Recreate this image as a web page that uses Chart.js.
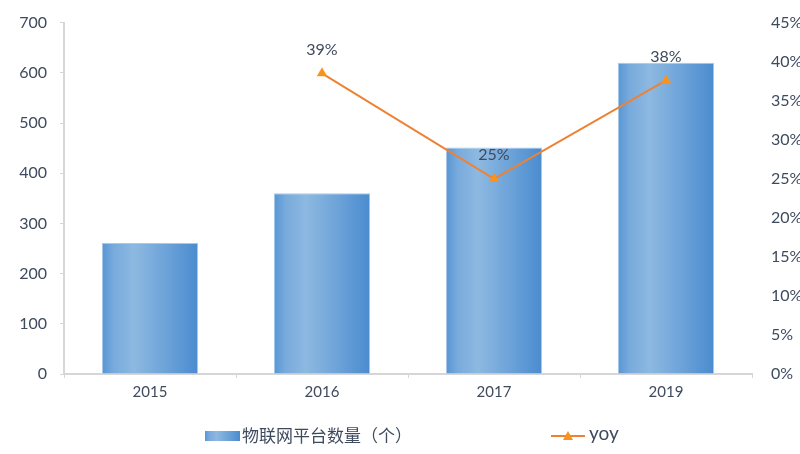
<!DOCTYPE html>
<html>
<head>
<meta charset="utf-8">
<script src="https://cdn.jsdelivr.net/npm/chart.js@4/dist/chart.umd.min.js"></script>
<style>
  html, body { margin: 0; padding: 0; background: #ffffff; }
  #wrap { width: 800px; height: 454px; position: relative; }
</style>
</head>
<body>
<div id="wrap"><canvas id="c"></canvas></div>
<script>
const categories = ['2015', '2016', '2017', '2019'];
const platformCount = [261, 360, 451, 620];
const yoyValues = [null, 0.385, 0.25, 0.376];
const leftTicks = [0, 100, 200, 300, 400, 500, 600, 700];
const rightTicks = [0, 0.05, 0.10, 0.15, 0.20, 0.25, 0.30, 0.35, 0.40, 0.45];
const barLabel = '物联网平台数量（个）';
const lineLabel = 'yoy';

const TEXT = '#3e4a5e';
const AXIS = '#d6d6d6';
const LINE_COLOR = '#ee8234';
const MARKER_COLOR = '#f7931e';
const FONT = 'Lato, "Noto Sans", sans-serif';
const CJK_FONT = '"Noto Sans CJK SC", "Noto Sans", sans-serif';

function barGradient(ctx, x0, x1) {
  const g = ctx.createLinearGradient(x0, 0, x1, 0);
  g.addColorStop(0, '#5596d4');
  g.addColorStop(0.12, '#78aadc');
  g.addColorStop(0.33, '#8db9e1');
  g.addColorStop(0.65, '#6ea4d9');
  g.addColorStop(1, '#4a8bcf');
  return g;
}

const gradientPlugin = {
  id: 'barGradient',
  beforeDatasetDraw(chart, args) {
    const meta = args.meta;
    if (meta.type !== 'bar') return;
    meta.data.forEach(bar => {
      const x0 = bar.x - bar.width / 2, x1 = bar.x + bar.width / 2;
      bar.options = Object.assign({}, bar.options, { backgroundColor: barGradient(chart.ctx, x0, x1) });
    });
  }
};

const labelPlugin = {
  id: 'yoyLabels',
  afterDatasetsDraw(chart) {
    const meta = chart.getDatasetMeta(1);
    const ctx = chart.ctx;
    ctx.save();
    ctx.font = '16px ' + FONT;
    ctx.fillStyle = TEXT;
    ctx.textAlign = 'center';
    ctx.textBaseline = 'middle';
    meta.data.forEach((pt, i) => {
      const v = yoyValues[i];
      if (v === null || v === undefined) return;
      ctx.fillText(Math.round(v * 100) + '%', pt.x, pt.y - 24);
    });
    ctx.restore();
  }
};

const legendPlugin = {
  id: 'customLegend',
  afterDraw(chart) {
    const ctx = chart.ctx;
    const cy = 436;
    ctx.save();
    // bar swatch
    ctx.fillStyle = barGradient(ctx, 205, 240);
    ctx.fillRect(205, cy - 5, 35, 10);
    ctx.font = '17px ' + CJK_FONT;
    ctx.fillStyle = TEXT;
    ctx.textAlign = 'left';
    ctx.textBaseline = 'middle';
    ctx.fillText(chart.data.datasets[0].label, 242, cy);
    // line swatch
    ctx.strokeStyle = LINE_COLOR;
    ctx.lineWidth = 2;
    ctx.beginPath();
    ctx.moveTo(551, cy);
    ctx.lineTo(585, cy);
    ctx.stroke();
    ctx.fillStyle = MARKER_COLOR;
    ctx.beginPath();
    ctx.moveTo(568, cy - 5);
    ctx.lineTo(573, cy + 4);
    ctx.lineTo(563, cy + 4);
    ctx.closePath();
    ctx.fill();
    ctx.font = '19px ' + FONT;
    ctx.fillStyle = TEXT;
    ctx.fillText(chart.data.datasets[1].label, 589, cy - 2);
    ctx.restore();
  }
};

new Chart(document.getElementById('c'), {
  data: {
    labels: categories,
    datasets: [
      {
        type: 'bar',
        label: barLabel,
        data: platformCount,
        yAxisID: 'y',
        backgroundColor: '#6ea4d9',
        borderColor: 'rgba(160,195,232,0.9)',
        borderWidth: 1,
        categoryPercentage: 1,
        barPercentage: 0.56,
        order: 1
      },
      {
        type: 'line',
        label: lineLabel,
        data: yoyValues,
        yAxisID: 'y1',
        borderColor: LINE_COLOR,
        borderWidth: 2,
        pointStyle: 'triangle',
        pointRadius: 6,
        pointBackgroundColor: MARKER_COLOR,
        pointBorderColor: MARKER_COLOR,
        pointBorderWidth: 0,
        tension: 0,
        spanGaps: false,
        order: 0
      }
    ]
  },
  options: {
    responsive: true,
    maintainAspectRatio: false,
    animation: false,
    devicePixelRatio: 1,
    layout: { padding: { top: 20, bottom: 50, left: 0, right: 0 } },
    plugins: {
      legend: { display: false },
      tooltip: { enabled: false }
    },
    scales: {
      x: {
        offset: true,
        grid: { display: true, drawOnChartArea: false, drawTicks: true, tickLength: 4, color: AXIS, offset: true },
        border: { display: true, color: AXIS, width: 2 },
        ticks: { color: TEXT, font: { family: FONT, size: 15 }, padding: 5 },
        afterFit(scale) { scale.height = 30; }
      },
      y: {
        position: 'left',
        min: 0,
        max: 700,
        afterBuildTicks(scale) { scale.ticks = leftTicks.map(v => ({ value: v })); },
        grid: { display: true, drawOnChartArea: false, drawTicks: true, tickLength: 4, color: AXIS },
        border: { display: true, color: AXIS, width: 2 },
        ticks: { color: TEXT, font: { family: FONT, size: 16 }, padding: 13 },
        afterFit(scale) { scale.width = 64; }
      },
      y1: {
        position: 'right',
        min: 0,
        max: 0.45,
        afterBuildTicks(scale) { scale.ticks = rightTicks.map(v => ({ value: v })); },
        grid: { display: false },
        border: { display: false },
        ticks: {
          color: TEXT,
          font: { family: FONT, size: 16 },
          padding: 11,
          callback: v => Math.round(v * 100) + '%'
        },
        afterFit(scale) { scale.width = 48; }
      }
    }
  },
  plugins: [gradientPlugin, labelPlugin, legendPlugin]
});
</script>
</body>
</html>
